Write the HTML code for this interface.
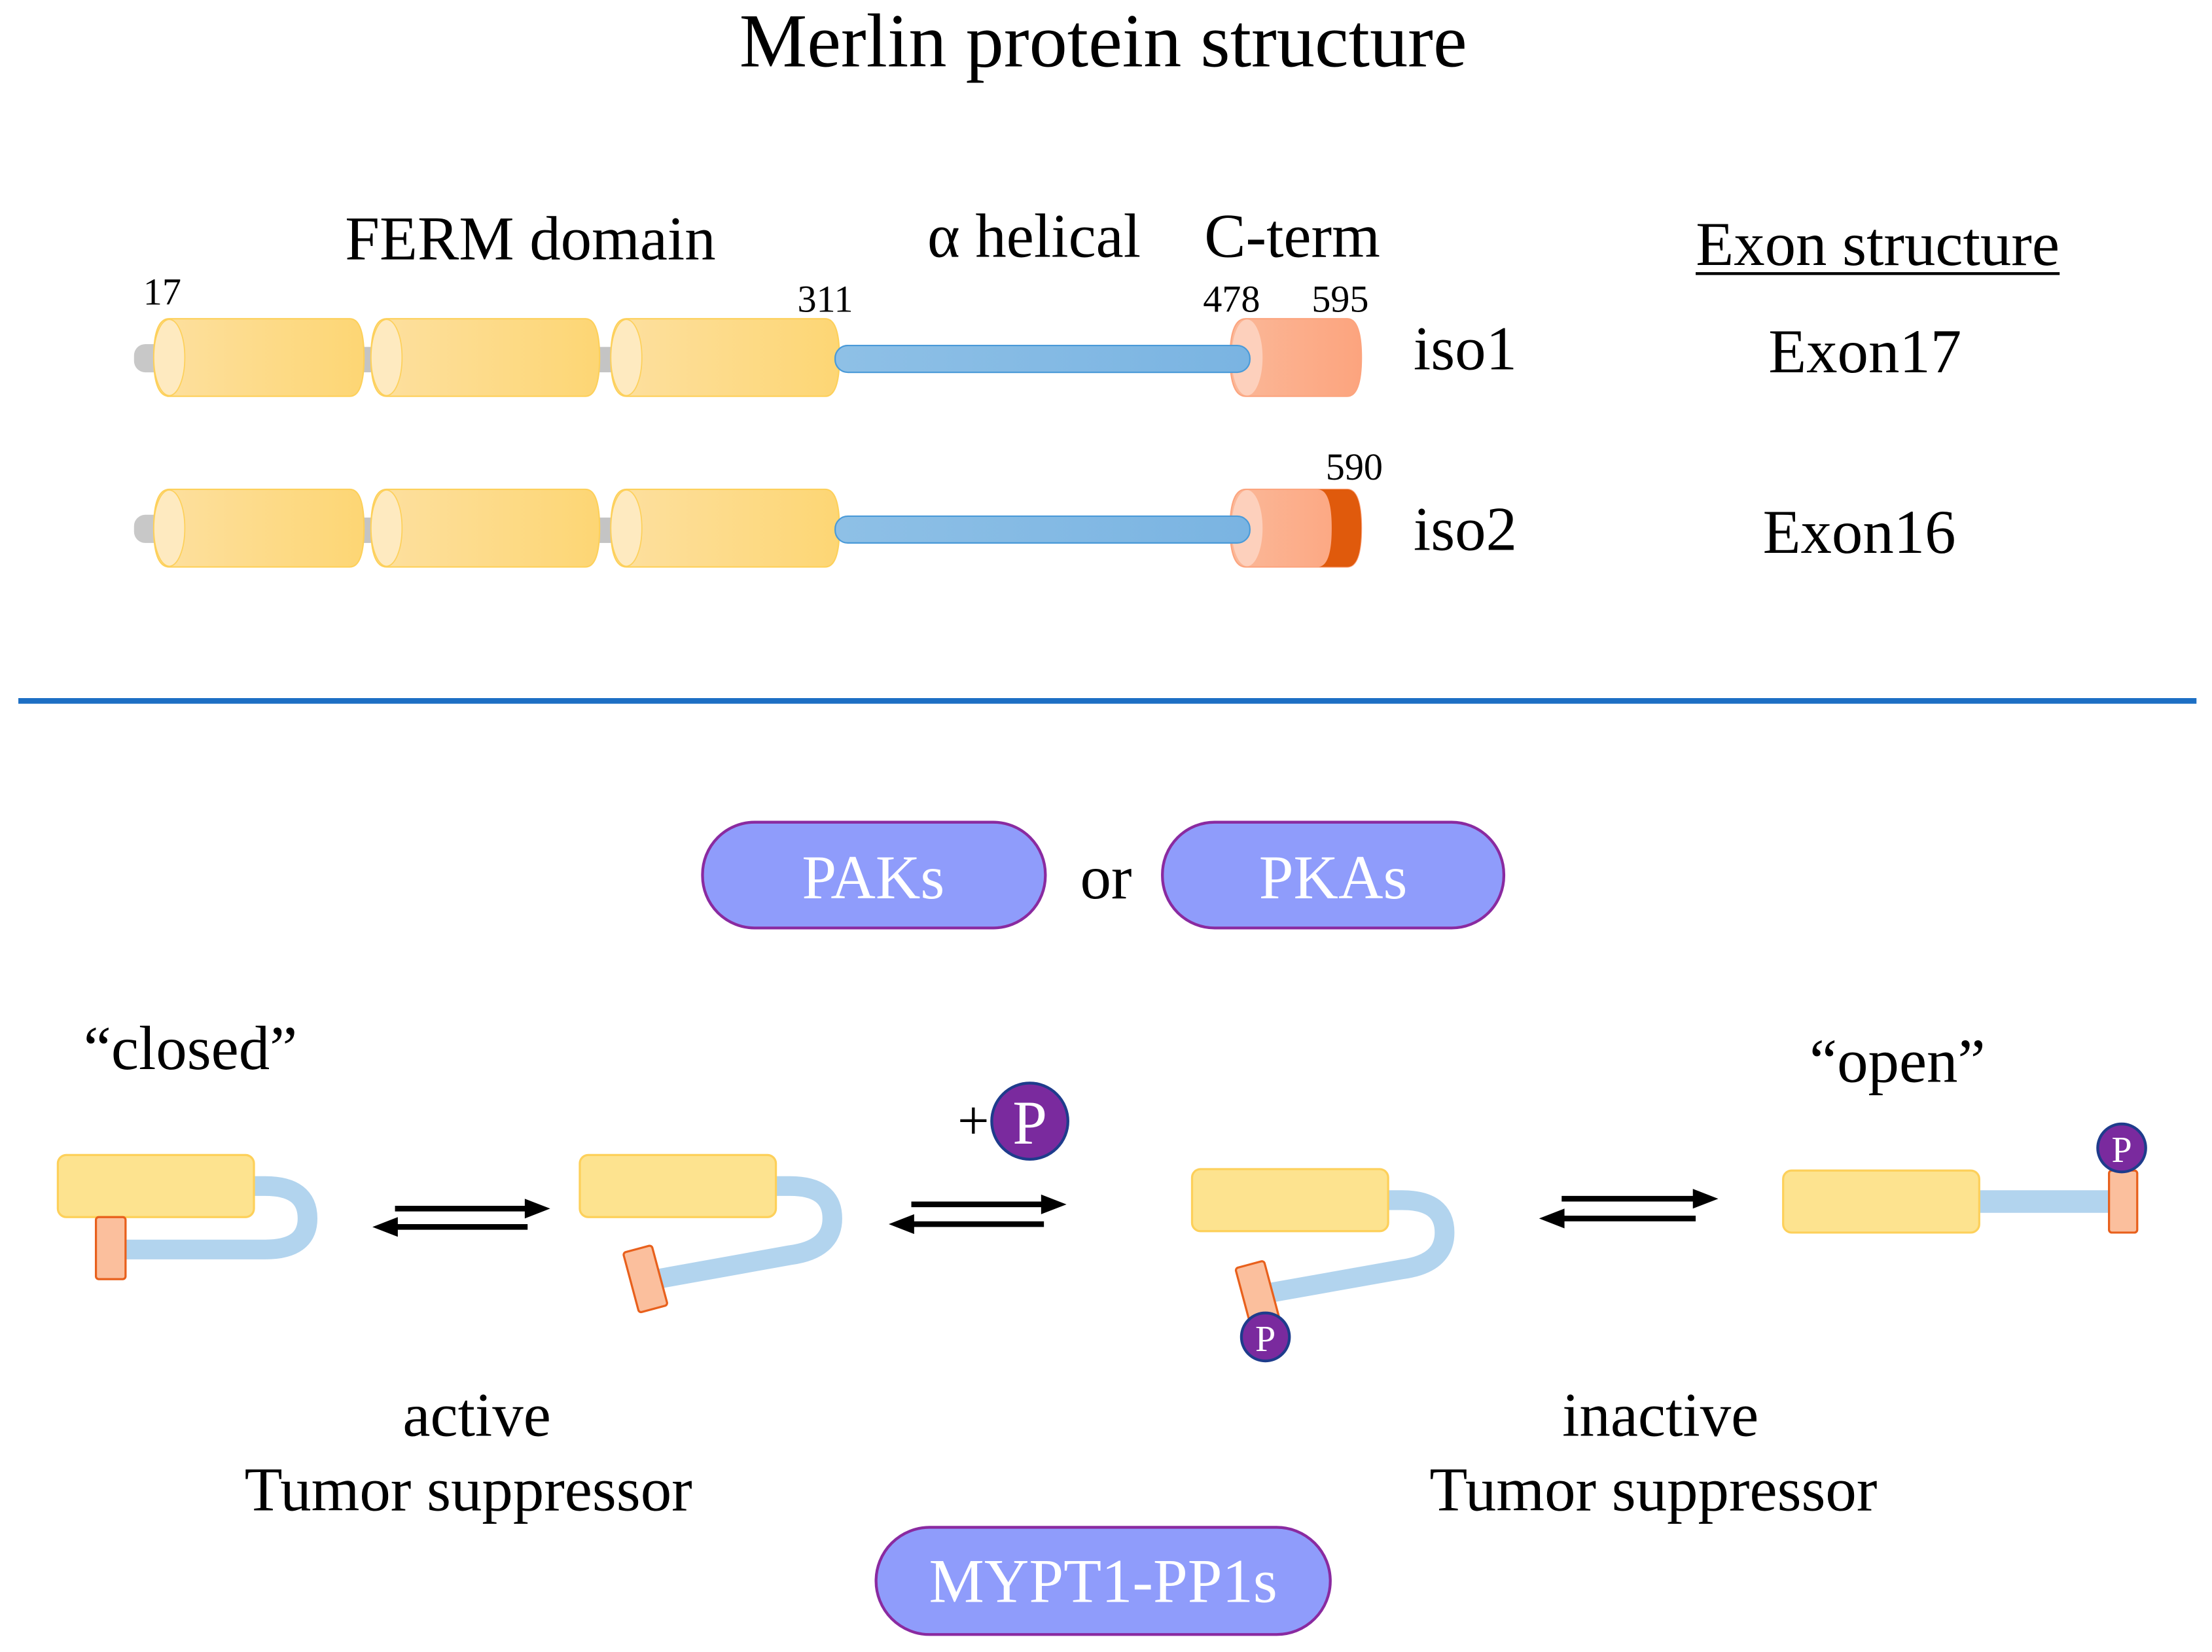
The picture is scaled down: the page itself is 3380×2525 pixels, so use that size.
<!DOCTYPE html>
<html><head><meta charset="utf-8"><style>
html,body{margin:0;padding:0;background:#fff;}
svg{display:block;}
text{font-family:"Liberation Serif",serif;fill:#000;}
</style></head><body>
<svg width="3380" height="2525" viewBox="0 0 1568 1171.4" preserveAspectRatio="none" xmlns="http://www.w3.org/2000/svg">
<defs>
<linearGradient id="yg" x1="0" x2="1"><stop offset="0" stop-color="#fde0a0"/><stop offset="1" stop-color="#fdd674"/></linearGradient>
<linearGradient id="og" x1="0" x2="1"><stop offset="0" stop-color="#fbb898"/><stop offset="1" stop-color="#fca47e"/></linearGradient>
<linearGradient id="bg" x1="0" x2="1"><stop offset="0" stop-color="#8ec0e6"/><stop offset="1" stop-color="#7ab4e2"/></linearGradient>
<g id="row">
<rect x="95" y="18" width="33" height="20" rx="8" fill="#c8c8c8"/>
<rect x="252" y="20" width="22" height="18" fill="#c4c4c4"/>
<rect x="419" y="20" width="24" height="18" fill="#c4c4c4"/>
<path d="M120,0 H248 Q258,0 258,27.5 Q258,55 248,55 H120 Q109,55 109,27.5 Q109,0 120,0Z" fill="url(#yg)" stroke="#fdd05a"/>
<ellipse cx="120" cy="27.5" rx="11" ry="27" fill="#feeac0" stroke="#fdd05a" stroke-width="0.8"/>
<path d="M274,0 H415 Q425,0 425,27.5 Q425,55 415,55 H274 Q263,55 263,27.5 Q263,0 274,0Z" fill="url(#yg)" stroke="#fdd05a"/>
<ellipse cx="274" cy="27.5" rx="11" ry="27" fill="#feeac0" stroke="#fdd05a" stroke-width="0.8"/>
<path d="M444,0 H585 Q595,0 595,27.5 Q595,55 585,55 H444 Q433,55 433,27.5 Q433,0 444,0Z" fill="url(#yg)" stroke="#fdd05a"/>
<ellipse cx="444" cy="27.5" rx="11" ry="27" fill="#feeac0" stroke="#fdd05a" stroke-width="0.8"/>
</g>
</defs>

<text x="782" y="47" font-size="54" text-anchor="middle">Merlin protein structure</text>
<text x="376" y="184" font-size="44" text-anchor="middle">FERM domain</text>
<text x="733" y="182" font-size="44" text-anchor="middle">α helical</text>
<text x="916" y="182" font-size="44" text-anchor="middle">C-term</text>
<text x="1331" y="188" font-size="44" text-anchor="middle">Exon structure</text>
<line x1="1202" y1="194" x2="1460" y2="194" stroke="#000" stroke-width="2"/>
<text x="115" y="216" font-size="27" text-anchor="middle">17</text>
<text x="585" y="221" font-size="27" text-anchor="middle">311</text>
<text x="873" y="221" font-size="27" text-anchor="middle">478</text>
<text x="950" y="221" font-size="27" text-anchor="middle">595</text>
<text x="960" y="340" font-size="27" text-anchor="middle">590</text>

<g transform="translate(0,226)">
<use href="#row"/>
<rect x="592" y="19" width="294" height="19" rx="9" fill="url(#bg)" stroke="#4a9ad8" stroke-width="1"/>
<path d="M883,0 H955 Q965,0 965,27.5 Q965,55 955,55 H883 Q872,55 872,27.5 Q872,0 883,0Z" fill="url(#og)" stroke="#fca47e"/>
<ellipse cx="884" cy="27.5" rx="11" ry="27" fill="#fdd0bc"/>
<rect x="592" y="19" width="294" height="19" rx="9" fill="url(#bg)" stroke="#4a9ad8" stroke-width="1"/>
</g>
<g transform="translate(0,347)">
<use href="#row"/>
<path d="M883,0 H955 Q965,0 965,27.5 Q965,55 955,55 H883 Q872,55 872,27.5 Q872,0 883,0Z" fill="url(#og)" stroke="#fca47e"/>
<path d="M934,0 H955 Q965,0 965,27.5 Q965,55 955,55 H934 Q944,55 944,27.5 Q944,0 934,0Z" fill="#e05a0c"/>
<ellipse cx="884" cy="27.5" rx="11" ry="27" fill="#fdd0bc"/>
<rect x="592" y="19" width="294" height="19" rx="9" fill="url(#bg)" stroke="#4a9ad8" stroke-width="1"/>
</g>

<text x="1002" y="262" font-size="44">iso1</text>
<text x="1002" y="390" font-size="44">iso2</text>
<text x="1322" y="264" font-size="44" text-anchor="middle">Exon17</text>
<text x="1318" y="392" font-size="44" text-anchor="middle">Exon16</text>

<line x1="13" y1="497" x2="1557" y2="497" stroke="#1d6fc4" stroke-width="4"/>

<rect x="498" y="583" width="243" height="75" rx="37" fill="#8f9cfb" stroke="#8a2aa0" stroke-width="2"/>
<text x="619" y="637" font-size="44" text-anchor="middle" style="fill:#fff">PAKs</text>
<text x="784" y="637" font-size="44" text-anchor="middle">or</text>
<rect x="824" y="583" width="242" height="75" rx="37" fill="#8f9cfb" stroke="#8a2aa0" stroke-width="2"/>
<text x="945" y="637" font-size="44" text-anchor="middle" style="fill:#fff">PKAs</text>
<rect x="621" y="1083" width="322" height="76" rx="38" fill="#8f9cfb" stroke="#8a2aa0" stroke-width="2"/>
<text x="782" y="1136" font-size="44" text-anchor="middle" style="fill:#fff">MYPT1-PP1s</text>

<text x="135" y="758" font-size="44" text-anchor="middle">“closed”</text>
<text x="1345" y="767" font-size="44" text-anchor="middle">“open”</text>

<path d="M175,841 H188 Q218,841 218,864 Q218,886 188,886 H80" fill="none" stroke="#b2d4ee" stroke-width="14" stroke-linecap="round"/>
<rect x="41" y="819" width="139" height="44" rx="6" fill="#fde38f" stroke="#fdd05a" stroke-width="1.5"/>
<rect x="68" y="863" width="21" height="44" rx="2" fill="#fbbf9d" stroke="#e8601c" stroke-width="1.5"/>

<path d="M545,841 H560 Q590,841 590,864 Q590,886 560,890 L460,908" fill="none" stroke="#b2d4ee" stroke-width="14" stroke-linecap="round"/>
<rect x="411" y="819" width="139" height="44" rx="6" fill="#fde38f" stroke="#fdd05a" stroke-width="1.5"/>
<rect x="447" y="885" width="21" height="44" rx="2" fill="#fbbf9d" stroke="#e8601c" stroke-width="1.5" transform="rotate(-15 457 907)"/>

<path d="M980,851 H994 Q1024,851 1024,874 Q1024,896 994,900 L893,918" fill="none" stroke="#b2d4ee" stroke-width="14" stroke-linecap="round"/>
<rect x="845" y="829" width="139" height="44" rx="6" fill="#fde38f" stroke="#fdd05a" stroke-width="1.5"/>
<rect x="881" y="896" width="21" height="44" rx="2" fill="#fbbf9d" stroke="#e8601c" stroke-width="1.5" transform="rotate(-15 891 918)"/>
<circle cx="897" cy="948" r="17" fill="#7a2a9e" stroke="#1e3c8c" stroke-width="2"/>
<text x="897" y="958" font-size="26" text-anchor="middle" style="fill:#fff">P</text>

<line x1="1370" y1="852" x2="1503" y2="852" stroke="#b2d4ee" stroke-width="16"/>
<rect x="1264" y="830" width="139" height="44" rx="6" fill="#fde38f" stroke="#fdd05a" stroke-width="1.5"/>
<rect x="1495" y="830" width="20" height="44" rx="2" fill="#fbbf9d" stroke="#e8601c" stroke-width="1.5"/>
<circle cx="1504" cy="814" r="17" fill="#7a2a9e" stroke="#1e3c8c" stroke-width="2"/>
<text x="1504" y="824" font-size="26" text-anchor="middle" style="fill:#fff">P</text>

<text x="690" y="808" font-size="40" text-anchor="middle">+</text>
<circle cx="730" cy="795" r="27" fill="#7a2a9e" stroke="#1e3c8c" stroke-width="2"/>
<text x="730" y="811" font-size="44" text-anchor="middle" style="fill:#fff">P</text>

<g stroke="#000" stroke-width="4" fill="#000">
<line x1="280" y1="857" x2="376" y2="857"/><path d="M390,857 L372,850 L372,864Z" stroke="none"/>
<line x1="278" y1="870" x2="374" y2="870"/><path d="M264,870 L282,863 L282,877Z" stroke="none"/>
<line x1="646" y1="854" x2="742" y2="854"/><path d="M756,854 L738,847 L738,861Z" stroke="none"/>
<line x1="644" y1="868" x2="740" y2="868"/><path d="M630,868 L648,861 L648,875Z" stroke="none"/>
<line x1="1107" y1="850" x2="1204" y2="850"/><path d="M1218,850 L1200,843 L1200,857Z" stroke="none"/>
<line x1="1105" y1="864" x2="1202" y2="864"/><path d="M1091,864 L1109,857 L1109,871Z" stroke="none"/>
</g>

<text x="338" y="1018" font-size="44" text-anchor="middle">active</text>
<text x="332" y="1071" font-size="44" text-anchor="middle">Tumor suppressor</text>
<text x="1177" y="1018" font-size="44" text-anchor="middle">inactive</text>
<text x="1172" y="1071" font-size="44" text-anchor="middle">Tumor suppressor</text>
</svg>
</body></html>
